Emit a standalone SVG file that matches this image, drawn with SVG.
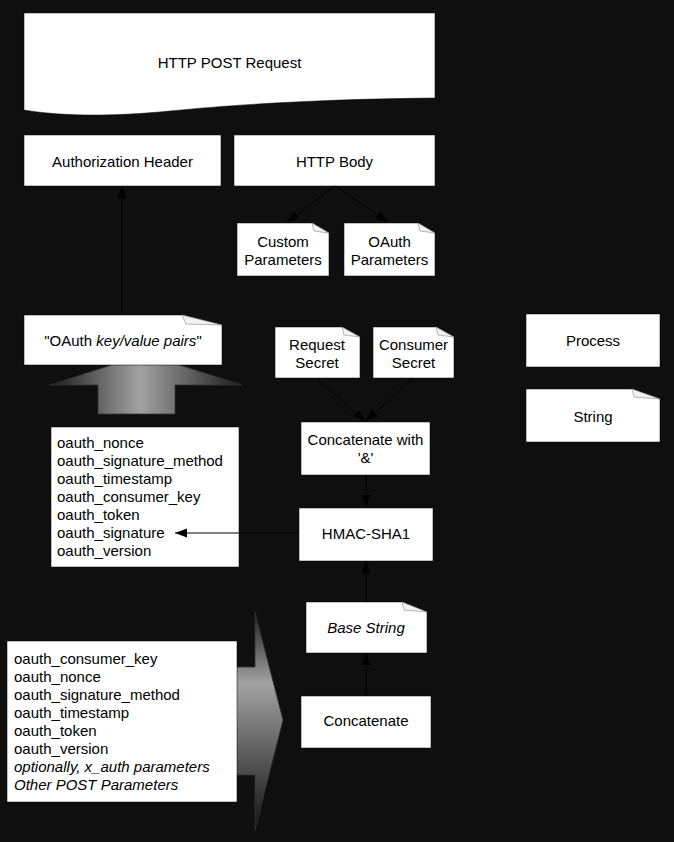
<svg xmlns="http://www.w3.org/2000/svg" width="674" height="842" viewBox="0 0 674 842">
<style>
.bg{fill:#0f0f0f}
.box{fill:#fff;stroke:#000;stroke-width:0.5}
.fold{fill:#f2f2f2;stroke:#888;stroke-width:0.6}
.t{font-family:"Liberation Sans",Arial,sans-serif;font-size:15px;fill:#000}
.c{text-anchor:middle}
.i{font-style:italic}
.ln{stroke:#000;stroke-width:1;fill:none}
</style>
<defs>
<marker id="ah" viewBox="0 0 12 10" refX="12" refY="5" markerWidth="12" markerHeight="10" markerUnits="userSpaceOnUse" orient="auto">
<path d="M0,0.5 L12,5 L0,9.5 Z" fill="#000"/>
</marker>
<linearGradient id="gUp" gradientUnits="userSpaceOnUse" x1="50" y1="0" x2="242" y2="0">
<stop offset="0" stop-color="#1a1a1a"/>
<stop offset="0.47" stop-color="#a2a2a2"/>
<stop offset="1" stop-color="#1a1a1a"/>
</linearGradient>
<linearGradient id="gRt" gradientUnits="userSpaceOnUse" x1="0" y1="612" x2="0" y2="830">
<stop offset="0" stop-color="#1e1e1e"/>
<stop offset="0.33" stop-color="#a2a2a2"/>
<stop offset="1" stop-color="#111"/>
</linearGradient>
</defs>
<rect class="bg" x="0" y="0" width="674" height="842"/>

<g id="big-arrows">
<path d="M145,354 L242,385 L175,385 L175,414 L98,414 L98,385 L50,385 Z" fill="url(#gUp)" stroke="#333" stroke-width="0.8"/>
<path d="M224,667 L255,667 L255,612 L283,720 L255,830 L255,775 L224,775 Z" fill="url(#gRt)" stroke="#333" stroke-width="0.8"/>
</g>

<g id="http-post-request">
<path class="box" d="M24,13 H435 V98 C330,99 240,104 170,111 C110,117 60,116 24,110 Z"/>
<text class="t c" x="229.5" y="68">HTTP POST Request</text>
</g>

<g id="authorization-header">
<rect class="box" x="24" y="135" width="197" height="51"/>
<text class="t c" x="122.5" y="167">Authorization Header</text>
</g>

<g id="http-body">
<rect class="box" x="234" y="135" width="201" height="51"/>
<text class="t c" x="334.5" y="167">HTTP Body</text>
</g>

<g id="custom-parameters">
<path class="box" d="M237,223 H312 L329,233 V276 H237 Z"/>
<path class="fold" d="M312,223 L329,233 L314,231 Z"/>
<text class="t c" x="283" y="247">Custom</text>
<text class="t c" x="283" y="265">Parameters</text>
</g>

<g id="oauth-parameters">
<path class="box" d="M344,223 H418 L435,233 V276 H344 Z"/>
<path class="fold" d="M418,223 L435,233 L420,231 Z"/>
<text class="t c" x="389.5" y="247">OAuth</text>
<text class="t c" x="389.5" y="265">Parameters</text>
</g>

<g id="oauth-key-value-pairs">
<path class="box" d="M24,315 H182 L222,325 V365 H24 Z"/>
<path class="fold" d="M182,315 L222,325 L186,324 Z"/>
<text class="t c" x="123" y="346">"OAuth <tspan class="i">key/value pairs</tspan>"</text>
</g>

<g id="request-secret">
<path class="box" d="M275,327 H342 L360,337 V378 H275 Z"/>
<path class="fold" d="M342,327 L360,337 L344,335 Z"/>
<text class="t c" x="317" y="350">Request</text>
<text class="t c" x="317" y="368">Secret</text>
</g>

<g id="consumer-secret">
<path class="box" d="M373,327 H436 L454,337 V378 H373 Z"/>
<path class="fold" d="M436,327 L454,337 L438,335 Z"/>
<text class="t c" x="413.5" y="350">Consumer</text>
<text class="t c" x="413.5" y="368">Secret</text>
</g>

<g id="process-legend">
<rect class="box" x="526" y="314" width="134" height="53"/>
<text class="t c" x="593" y="346">Process</text>
</g>

<g id="string-legend">
<path class="box" d="M526,389 H632 L660,399 V442 H526 Z"/>
<path class="fold" d="M632,389 L660,399 L634,397 Z"/>
<text class="t c" x="593" y="422">String</text>
</g>

<g id="concatenate-with-amp">
<rect class="box" x="301" y="422" width="129" height="53"/>
<text class="t c" x="365.5" y="445">Concatenate with</text>
<text class="t c" x="365.5" y="463">'&amp;'</text>
</g>

<g id="oauth-header-list">
<rect class="box" x="51" y="427" width="188" height="140"/>
<text class="t" x="57" y="448">oauth_nonce</text>
<text class="t" x="57" y="466">oauth_signature_method</text>
<text class="t" x="57" y="484">oauth_timestamp</text>
<text class="t" x="57" y="502">oauth_consumer_key</text>
<text class="t" x="57" y="520">oauth_token</text>
<text class="t" x="57" y="538">oauth_signature</text>
<text class="t" x="57" y="556">oauth_version</text>
</g>

<g id="hmac-sha1">
<rect class="box" x="299" y="508" width="134" height="53"/>
<text class="t c" x="366" y="539">HMAC-SHA1</text>
</g>

<g id="base-string">
<path class="box" d="M306,602 H402 L427,612 V653 H306 Z"/>
<path class="fold" d="M402,602 L427,612 L404,610 Z"/>
<text class="t c i" x="366" y="633">Base String</text>
</g>

<g id="concatenate">
<rect class="box" x="301" y="696" width="130" height="52"/>
<text class="t c" x="366" y="726">Concatenate</text>
</g>

<g id="base-string-inputs">
<rect class="box" x="7" y="641" width="230" height="161"/>
<text class="t" x="14" y="664">oauth_consumer_key</text>
<text class="t" x="14" y="682">oauth_nonce</text>
<text class="t" x="14" y="700">oauth_signature_method</text>
<text class="t" x="14" y="718">oauth_timestamp</text>
<text class="t" x="14" y="736">oauth_token</text>
<text class="t" x="14" y="754">oauth_version</text>
<text class="t i" x="14" y="772">optionally, x_auth parameters</text>
<text class="t i" x="14" y="790">Other POST Parameters</text>
</g>

<g id="connectors">
<line class="ln" x1="122" y1="315" x2="122" y2="186" marker-end="url(#ah)"/>
<line class="ln" x1="335" y1="186" x2="287" y2="222" marker-end="url(#ah)"/>
<line class="ln" x1="335" y1="186" x2="388" y2="222" marker-end="url(#ah)"/>
<line class="ln" x1="317" y1="378" x2="365" y2="421" marker-end="url(#ah)"/>
<line class="ln" x1="413" y1="378" x2="366" y2="421" marker-end="url(#ah)"/>
<line class="ln" x1="366" y1="475" x2="366" y2="507" marker-end="url(#ah)"/>
<line class="ln" x1="299" y1="533" x2="175" y2="533" marker-end="url(#ah)"/>
<line class="ln" x1="366" y1="602" x2="366" y2="561" marker-end="url(#ah)"/>
<line class="ln" x1="366" y1="696" x2="366" y2="653" marker-end="url(#ah)"/>
</g>
</svg>
